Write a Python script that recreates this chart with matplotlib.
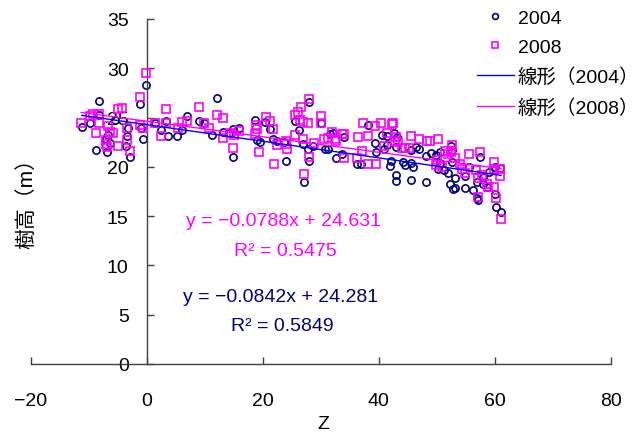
import matplotlib
matplotlib.use("Agg")
import matplotlib.pyplot as plt

plt.rcParams['font.family'] = ['Liberation Sans', 'Noto Sans CJK JP']
plt.rcParams['axes.unicode_minus'] = True

# tree height (m) against Z, survey years 2004 and 2008
x_2004 = [-11.2, -9.8, -8.2, -8.8, -8.2, -7.0, -6.9, -6.4, -6.6, -5.5, -3.4, -3.2, -3.6, -2.9,
          -1.2, -0.6, -0.9, -0.1, 1.4, 2.5, 3.4, 3.6, 5.2, 6.0, 6.9, 9.1, 9.9, 11.2, 12.2, 13.1,
          14.2, 14.9, 16.0, 14.8, 18.7, 19.1, 19.5, 20.4, 21.3, 21.7, 22.4, 23.6, 24.0, 25.6,
          26.2, 27.9, 27.0, 27.8, 28.6, 27.9, 27.2, 30.1, 30.8, 31.3, 31.6, 32.2, 32.6, 33.6,
          34.1, 36.2, 37.0, 38.2, 39.3, 39.6, 40.5, 41.0, 41.5, 42.2, 42.6, 41.4, 43.1, 43.0,
          42.0, 43.0, 43.0, 44.2, 44.5, 45.6, 45.6, 46.0, 45.6, 46.5, 47.0, 48.2, 48.1, 49.0,
          49.8, 50.6, 50.3, 50.6, 51.3, 52.5, 52.7, 52.3, 52.8, 52.7, 52.0, 53.2, 53.2, 54.9,
          54.9, 56.3, 57.5, 57.0, 58.0, 58.6, 56.9, 57.2, 60.0, 60.3, 61.1, 61.0, 60.0, 55.5,
          59.0, 58.0]
y_2004 = [24.0, 24.4, 26.7, 21.7, 25.3, 22.8, 21.5, 22.4, 23.2, 24.8, 23.1, 23.9, 22.1, 21.0,
          26.4, 22.8, 23.9, 28.3, 24.5, 23.7, 24.7, 23.1, 23.1, 23.7, 25.2, 24.7, 24.5, 23.2,
          27.0, 23.5, 23.4, 23.8, 23.9, 21.0, 24.8, 22.7, 22.5, 24.6, 23.8, 22.8, 22.6, 22.5,
          20.6, 24.7, 23.7, 26.6, 22.3, 21.8, 22.1, 20.6, 18.5, 24.4, 21.8, 21.8, 23.3, 23.4,
          20.9, 21.3, 23.0, 20.3, 20.3, 24.2, 22.4, 21.5, 23.2, 21.8, 22.2, 20.6, 23.4, 23.1,
          23.0, 22.0, 20.1, 19.2, 18.6, 20.5, 20.2, 18.7, 20.4, 20.0, 21.7, 22.0, 21.8, 18.5,
          21.1, 21.4, 21.2, 21.5, 19.8, 20.4, 19.7, 22.1, 20.5, 18.3, 17.8, 21.7, 19.4, 18.9,
          17.9, 19.1, 17.9, 17.7, 21.0, 18.5, 18.3, 18.0, 16.8, 16.6, 17.2, 15.9, 15.4, 19.9,
          20.0, 20.0, 19.5, 19.0]

x_2008 = [-11.3, -9.8, -9.2, -8.2, -8.2, -8.8, -7.1, -7.0, -6.9, -6.7, -6.3, -5.8, -5.0, -4.9,
          -4.3, -3.4, -3.4, -2.9, -1.2, -1.2, -0.6, -0.1, 1.4, 2.5, 3.4, 3.4, 5.4, 6.0, 6.9, 9.1,
          9.9, 10.7, 12.2, 13.2, 13.1, 14.3, 15.0, 16.0, 14.8, 18.9, 19.1, 18.6, 19.4, 20.5,
          21.3, 21.7, 22.4, 24.0, 24.2, 21.9, 24.0, 25.5, 26.0, 26.6, 27.9, 25.6, 26.5, 27.0,
          27.8, 27.0, 28.8, 30.1, 30.1, 30.6, 31.3, 32.0, 32.5, 32.6, 33.6, 34.1, 27.9, 27.2,
          34.0, 36.2, 36.4, 37.3, 37.1, 38.1, 38.2, 39.3, 40.4, 39.6, 40.9, 41.4, 42.3, 42.5,
          43.0, 42.8, 43.3, 44.0, 44.6, 45.3, 45.6, 47.0, 48.3, 48.8, 50.3, 51.5, 52.0, 52.5,
          50.0, 49.8, 51.0, 52.7, 52.5, 53.2, 54.0, 54.3, 54.9, 55.6, 57.5, 56.8, 57.2, 57.8,
          58.6, 58.9, 59.9, 59.9, 59.9, 60.3, 61.0, 61.1, 57.2, 61.0]
y_2008 = [24.4, 25.2, 25.4, 25.4, 24.4, 23.4, 22.7, 22.3, 22.0, 24.1, 23.5, 23.4, 22.1, 25.9,
          26.0, 23.9, 22.7, 21.6, 27.1, 24.2, 23.9, 29.5, 24.5, 23.1, 25.9, 24.5, 23.9, 24.6,
          24.7, 26.1, 24.5, 23.9, 25.3, 25.0, 22.9, 23.4, 23.2, 23.6, 21.9, 24.2, 23.8, 23.3,
          21.5, 25.1, 24.7, 23.8, 22.2, 22.3, 21.8, 20.3, 22.6, 25.3, 25.6, 26.1, 26.9, 23.2,
          24.8, 24.6, 24.5, 22.8, 22.4, 25.2, 24.4, 22.8, 22.9, 23.5, 22.8, 22.6, 23.3, 23.3,
          21.0, 19.3, 20.9, 20.9, 23.0, 24.5, 21.6, 20.3, 23.1, 24.1, 24.5, 20.3, 22.1, 23.4,
          24.3, 24.4, 23.0, 22.6, 22.5, 21.9, 21.9, 21.9, 23.1, 22.8, 22.6, 22.6, 22.8, 21.6,
          21.3, 21.6, 20.7, 20.2, 20.0, 22.2, 21.5, 20.9, 20.3, 19.8, 19.4, 21.3, 21.5, 19.7,
          18.9, 19.2, 18.3, 18.0, 20.5, 19.8, 18.0, 16.8, 19.1, 14.7, 16.9, 19.8]

# linear trend coefficients (slope, intercept, R^2)
fit_2004 = (-0.0842, 24.281, 0.5849)
fit_2008 = (-0.0788, 24.631, 0.5475)

navy = '#000080'
magenta = '#FF00FF'
axis_grey = '#404040'


def trend_line(xs, fit):
	lo, hi = min(xs), max(xs)
	return [lo, hi], [fit[0] * lo + fit[1], fit[0] * hi + fit[1]]


def eq_text(fit):
	return f"y = \u2212{abs(fit[0]):.4f}x + {fit[1]:.3f}", f"R\u00b2 = {fit[2]:.4f}"


fig = plt.figure(figsize=(6.39, 4.35), dpi=100)
ax = fig.add_axes([30.7 / 639, 70 / 435, 580 / 639, 345 / 435])

ax.plot(x_2004, y_2004, 'o', ms=5.2, mfc='none', mec=navy, mew=1.2, label='2004', zorder=2)
ax.plot(x_2008, y_2008, 's', ms=5.2, mfc='none', mec=magenta, mew=1.2, label='2008', zorder=3)

lx, ly = trend_line(x_2004, fit_2004)
ax.plot(lx, ly, color='#0000FF', lw=1.0, label='線形（2004）', zorder=4)
lx, ly = trend_line(x_2008, fit_2008)
ax.plot(lx, ly, color=magenta, lw=1.0, label='線形（2008）', zorder=4)

ax.set_xlim(-20, 80)
ax.set_ylim(0, 35)
ax.set_xticks([-20, 0, 20, 40, 60, 80])
ax.set_yticks(range(0, 36, 5))

for side in ['top', 'right']:
	ax.spines[side].set_visible(False)
ax.spines['left'].set_position(('data', 0))
for side in ['left', 'bottom']:
	ax.spines[side].set_color(axis_grey)
	ax.spines[side].set_linewidth(1.0)

ax.tick_params(axis='both', direction='in', length=5, width=1.0, color=axis_grey, labelsize=14)
ax.tick_params(axis='x', pad=20)
ax.tick_params(axis='y', pad=13)

# regression equations
e, r = eq_text(fit_2008)
ax.text(23.5, 14.6, e, color=magenta, fontsize=14, ha='center', va='center')
ax.text(23.9, 11.5, r, color=magenta, fontsize=14, ha='center', va='center')
e, r = eq_text(fit_2004)
ax.text(23.0, 6.84, e, color=navy, fontsize=14, ha='center', va='center')
ax.text(23.3, 3.9, r, color=navy, fontsize=14, ha='center', va='center')

fig.text(26 / 639, 1 - 199 / 435, '樹高（m）', rotation=90, fontsize=15, ha='center', va='center')
fig.text(323 / 639, 1 - 425 / 435, 'Z', fontsize=14, ha='center', va='center')

fig.legend(loc='upper left', bbox_to_anchor=(475 / 639, 1 - 8 / 435), frameon=False, fontsize=14,
           handlelength=1.9, handletextpad=0.2, labelspacing=0.6, markerscale=0.8,
           borderaxespad=0.0, borderpad=0.1)

fig.savefig('out.png', dpi=100)
